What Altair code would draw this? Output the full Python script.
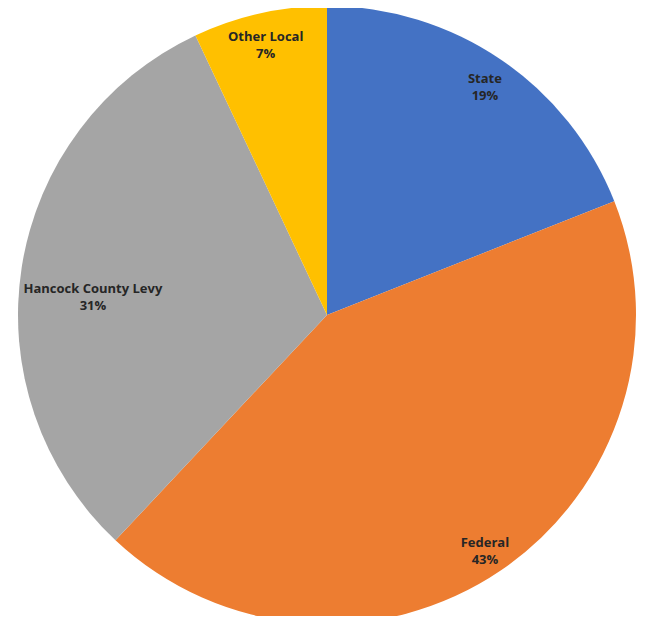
import altair as alt
import pandas as pd

categories = ["State", "Federal", "Hancock County Levy", "Other Local"]
values = [19, 43, 31, 7]
pct_labels = ["19%", "43%", "31%", "7%"]
colors = ["#4472C4", "#ED7D31", "#A5A5A5", "#FFC000"]

df = pd.DataFrame({
    "cat": categories,
    "value": values,
    "pct": pct_labels,
    "idx": list(range(len(categories))),
})

base = alt.Chart(df).encode(
    theta=alt.Theta("value:Q", stack=True),
    order=alt.Order("idx:Q"),
    x=alt.value(319),
    y=alt.value(307),
)

pie = base.mark_arc(outerRadius=309, stroke=None).encode(
    color=alt.Color("cat:N", scale=alt.Scale(domain=categories, range=colors), legend=None),
)

font = dict(font="Open Sans", fontSize=13, fontWeight="bold", color="#262626",
            align="center", baseline="middle", lineHeight=17)

labels_main = base.transform_calculate(
    lab="datum.cat == 'Hancock County Levy' ? '' : [datum.cat, datum.pct]"
).mark_text(radius=281, dy=-4, **font).encode(text="lab:N")

labels_hancock = base.transform_calculate(
    lab="datum.cat == 'Hancock County Levy' ? [datum.cat, datum.pct] : ''"
).mark_text(radius=237, dy=11, **font).encode(text="lab:N")

chart = alt.layer(pie, labels_main, labels_hancock).properties(
    width=629, height=608,
    autosize=alt.AutoSizeParams(type="none"),
    padding=0,
    background="white",
).configure_view(stroke=None)

chart.save("out.html", embed_options={"renderer": "svg", "actions": False})
